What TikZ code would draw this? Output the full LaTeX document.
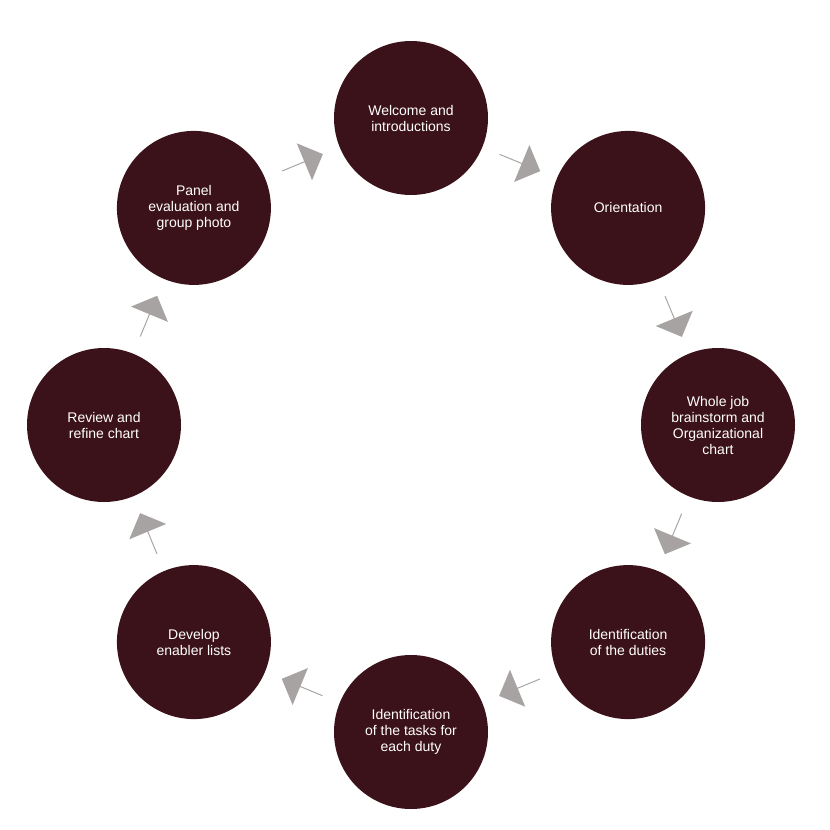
\documentclass[tikz,border=0pt]{standalone}
\usepackage{fontspec}
\setmainfont{Liberation Sans}
\usetikzlibrary{shapes.arrows,calc}
\definecolor{stepred}{HTML}{3B1219}
\definecolor{arrowgray}{HTML}{A7A3A2}

\begin{document}
\begin{tikzpicture}[x=1pt,y=1pt,
	stage/.style={circle,fill=stepred,minimum size=154pt,inner sep=0pt,text=white,
		align=center,font=\fontsize{14}{16}\selectfont},
	turn/.style={single arrow,fill=arrowgray,minimum height=44pt,minimum width=40pt,
		single arrow head extend=8pt,inner sep=0pt}]
\useasboundingbox (0,0) rectangle (830,-830);
\coordinate (c) at (411,-425);

\foreach \k/\txt in {0/{Welcome and\\introductions},
	1/{Orientation},
	2/{Whole job\\brainstorm and\\Organizational\\chart},
	3/{Identification\\of the duties},
	4/{Identification\\of the tasks for\\each duty},
	5/{Develop\\enabler lists},
	6/{Review and\\refine chart},
	7/{Panel\\evaluation and\\group photo}}
{
	\node[stage] (s\k) at ($(c)+({90-45*\k}:307)$) {\txt};
	\node[turn,rotate={-45*\k-22.5}] (a\k) at ($(c)+({67.5-45*\k}:284)$) {};
}
\end{tikzpicture}
\end{document}
